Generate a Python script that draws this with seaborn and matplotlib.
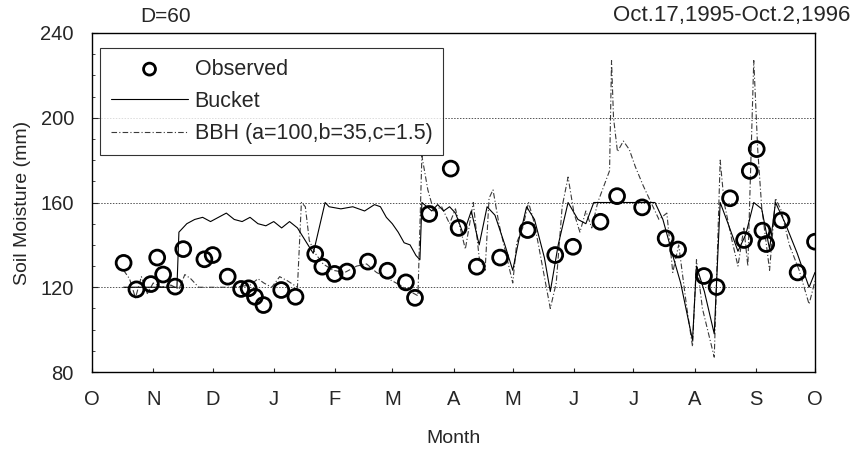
import matplotlib
matplotlib.use("Agg")
import matplotlib.pyplot as plt
import seaborn as sns
import pandas as pd
from matplotlib.ticker import MultipleLocator

# ---------------- data ----------------
month_labels = ["O", "N", "D", "J", "F", "M", "A", "M", "J", "J", "A", "S", "O"]
month_start_day = [0, 31, 61, 92, 123, 152, 183, 213, 244, 274, 305, 336, 366]

# days since Oct 1, 1995
obs_day = [16, 22.5, 29.8, 33, 36, 42.1, 46.2, 56.9, 61.1, 68.7, 75.5, 79.3, 82.5, 86.8,
           95.8, 103, 113, 116.6, 122.8, 129.1, 139.7, 149.6, 158.9, 163.5, 170.7, 181.6,
           185.6, 194.8, 206.6, 220.5, 234.5, 243.5, 257.4, 265.8, 278.5, 290.4, 296.7,
           309.8, 316.2, 323, 330.1, 333, 336.5, 339.4, 341.3, 349.1, 357.2, 366]
obs_mm = [131.5, 119, 121.5, 134, 126, 120.3, 138, 133.2, 135.2, 125, 119.2, 119.5, 115.5, 111.6,
          118.7, 115.5, 135.7, 129.7, 126.3, 127.4, 132.1, 127.8, 122.3, 115, 154.6, 176,
          148, 129.7, 134, 147, 135.2, 139.1, 150.9, 163, 157.7, 143.1, 137.8,
          125.3, 120.1, 162, 142.3, 174.9, 185.2, 146.7, 140.4, 151.6, 127, 141.5]

bucket_day = [16, 43, 44, 48, 52, 56, 60, 64, 68, 72, 76, 80, 84, 88, 92, 96, 100, 104, 108, 112,
              118, 120, 126, 132, 138, 143, 146, 149, 152, 155, 158, 161, 164, 166, 167, 172,
              175, 178, 181, 184, 188, 192, 196, 200, 204, 209, 213, 216, 220, 224, 229, 232,
              236, 241, 246, 250, 254, 285, 289, 294, 298, 304, 306, 310, 315, 318, 322, 327,
              331, 335, 339, 343, 346, 351, 357, 363, 366]
bucket_mm = [120, 120, 146, 150, 152, 153, 151, 153, 155, 152, 151, 153, 150, 149, 151, 148, 151, 148, 142, 136,
             160, 158, 157, 158, 156, 159, 158, 153, 150, 146, 141, 140, 135, 133, 160, 156,
             159, 156, 158, 155, 145, 156, 140, 158, 154, 140, 128, 142, 158, 152, 134, 118,
             140, 160, 152, 150, 160, 160, 152, 135, 122, 95, 130, 118, 98, 160, 150, 137,
             145, 160, 157, 138, 160, 150, 136, 120, 127]

bbh_day = [16, 19, 22, 25, 28, 31, 35, 40, 44, 47, 50, 54, 62, 72, 80, 84, 87, 91, 95, 99, 104,
           106, 108, 110, 113, 117, 122, 128, 134, 139, 144, 150, 156, 161, 165,
           167, 170, 173, 177, 181, 184, 189, 193, 196, 199, 201, 203, 206, 210, 213, 215, 218,
           221, 224, 228, 232, 235, 238, 241, 244, 247, 250, 253, 256, 260, 262, 263, 264, 266,
           269, 272, 275, 279, 283, 287, 291, 294, 297, 301, 304, 306, 309, 315, 318, 320, 324,
           327, 330, 332, 335, 337, 339, 343, 346, 349, 353, 358, 363, 366]
bbh_mm = [128, 124, 115, 125, 117, 122, 120, 121, 119, 126, 124, 120, 120, 120, 121, 124, 122, 120, 125, 123, 120,
          160, 158, 142, 136, 131, 128, 127, 130, 131, 127, 124, 121, 118, 116,
          182, 166, 156, 158, 150, 157, 138, 160, 134, 128, 162, 166, 150, 134, 122, 141, 148,
          160, 150, 130, 110, 122, 158, 172, 155, 146, 156, 148, 160, 170, 175, 227, 200, 184,
          189, 185, 177, 168, 160, 152, 155, 127, 140, 111, 92, 133, 110, 87, 180, 160, 142,
          130, 148, 130, 227, 185, 158, 128, 162, 156, 140, 128, 112, 123]

gridlines = [120, 160, 200]

# ---------------- style ----------------
sns.set_style("ticks")
plt.rcParams["font.family"] = ["Liberation Sans", "DejaVu Sans"]

fig = plt.figure(figsize=(8.53, 4.54), dpi=100)
ax = fig.add_axes([92 / 853, 1 - 372 / 454, (815 - 92) / 853, (372 - 33) / 454])

for g in gridlines:
    ax.axhline(g, color="#555555", lw=0.7, ls=(0, (1.5, 1.5)), zorder=0)

obs = pd.DataFrame({"day": obs_day, "mm": obs_mm})
buck = pd.DataFrame({"day": bucket_day, "mm": bucket_mm})
bbh = pd.DataFrame({"day": bbh_day, "mm": bbh_mm})

sns.lineplot(data=bbh, x="day", y="mm", ax=ax, color="#3a3a3a", lw=0.8,
             estimator=None, sort=False, label="BBH (a=100,b=35,c=1.5)",
             dashes=False, zorder=2)
ax.lines[-1].set_dashes((5, 2, 1, 2))
sns.lineplot(data=buck, x="day", y="mm", ax=ax, color="black", lw=0.8,
             estimator=None, sort=False, label="Bucket", zorder=3)
sns.scatterplot(data=obs, x="day", y="mm", ax=ax, s=115, facecolor="none",
                edgecolor="black", linewidth=2.0, label="Observed", zorder=4, marker="o")

ax.set_xlim(0, 366)
ax.set_ylim(80, 240)
ax.set_xticks(month_start_day)
ax.set_xticklabels(month_labels, fontsize=14.5)
ax.set_yticks([80, 120, 160, 200, 240])
ax.tick_params(axis="y", labelsize=14.5, direction="in", length=4, pad=13)
ax.tick_params(axis="x", direction="in", length=3, pad=13)
ax.yaxis.set_minor_locator(MultipleLocator(10))
ax.tick_params(axis="y", which="minor", direction="in", length=2)
ax.set_xlabel("Month", fontsize=14, labelpad=15)
ax.set_ylabel("Soil Moisture (mm)", fontsize=14, labelpad=7)
for s in ax.spines.values():
    s.set_linewidth(1.0)
    s.set_color("black")

handles, labels = ax.get_legend_handles_labels()
order = [labels.index("Observed"), labels.index("Bucket"), labels.index("BBH (a=100,b=35,c=1.5)")]
leg = ax.legend([handles[i] for i in order], [labels[i] for i in order],
                loc="upper left", bbox_to_anchor=(8 / 723, (372 - 48) / 339), borderaxespad=0,
                frameon=True, fancybox=False, edgecolor="black", fontsize=15.5,
                handlelength=3.6, handletextpad=0.3, labelspacing=0.52,
                borderpad=0.5, markerscale=0.8)
leg.get_frame().set_linewidth(0.8)

fig.text(166 / 853, 1 - 16 / 454, "D=60", ha="center", va="center", fontsize=15)
fig.text(850 / 853, 1 - 15 / 454, "Oct.17,1995-Oct.2,1996", ha="right", va="center", fontsize=16)

fig.savefig("out.png", dpi=100)
